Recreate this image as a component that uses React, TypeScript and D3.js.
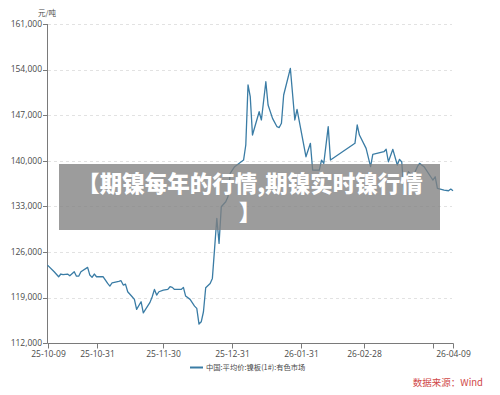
import React from "react";
import * as d3 from "d3";

const dates = [
  "2025-10-09","2025-10-12","2025-10-14","2025-10-15","2025-10-16","2025-10-18","2025-10-19","2025-10-21","2025-10-22","2025-10-23",
  "2025-10-24","2025-10-27","2025-10-28","2025-10-29","2025-10-30","2025-10-31","2025-11-03","2025-11-05","2025-11-06","2025-11-07",
  "2025-11-10","2025-11-11","2025-11-12","2025-11-13","2025-11-14","2025-11-16","2025-11-17","2025-11-18","2025-11-20","2025-11-21",
  "2025-11-24","2025-11-25","2025-11-26","2025-11-27","2025-11-28","2025-11-30","2025-12-02","2025-12-03","2025-12-04","2025-12-05",
  "2025-12-08","2025-12-09","2025-12-10","2025-12-12","2025-12-14","2025-12-15","2025-12-16","2025-12-17","2025-12-18","2025-12-19",
  "2025-12-21","2025-12-22","2025-12-23","2025-12-24","2025-12-25","2025-12-26","2025-12-28","2025-12-29","2025-12-30","2026-01-01",
  "2026-01-05","2026-01-06","2026-01-07","2026-01-08","2026-01-09","2026-01-12","2026-01-13","2026-01-15","2026-01-16","2026-01-18",
  "2026-01-20","2026-01-21","2026-01-22","2026-01-23","2026-01-26","2026-01-28","2026-01-29","2026-02-02","2026-02-04","2026-02-05",
  "2026-02-08","2026-02-09","2026-02-10","2026-02-12","2026-02-13","2026-02-24","2026-02-25","2026-02-26","2026-03-01","2026-03-03",
  "2026-03-04","2026-03-09","2026-03-10","2026-03-11","2026-03-13","2026-03-15","2026-03-16","2026-03-17","2026-03-18","2026-03-20",
  "2026-03-22","2026-03-24","2026-03-25","2026-03-27","2026-03-30","2026-03-31","2026-04-01","2026-04-02","2026-04-05","2026-04-07",
  "2026-04-08","2026-04-09",
];

const prices = [
  124000,122980,122210,122630,122530,122630,122360,122980,122300,122300,
  122980,123650,122470,122120,122630,122210,122210,121190,120780,121290,
  121500,121600,120940,121090,119910,119140,118740,117200,118380,116680,
  118280,119140,120270,119400,119910,120170,120270,120680,120580,120270,
  120270,120580,119250,118740,117710,117360,114950,115300,116840,120520,
  121190,121960,126570,131180,127340,132950,133720,134490,138080,139100,
  140120,142430,151640,149840,143960,147540,146270,152140,148570,146520,
  145240,145110,145760,150100,154200,146270,147910,140630,142690,138590,
  138590,140120,139610,145240,140120,142690,145500,143960,141910,139100,
  141000,141400,141770,139860,141770,139360,140230,139820,135010,138330,
  137560,139100,139610,139100,137560,137050,137560,135780,135520,135410,
  135670,135410,
];

const yTicks = [112000, 119000, 126000, 133000, 140000, 147000, 154000, 161000];
const xTickDates = ["2025-10-09","2025-10-31","2025-11-30","2025-12-31","2026-01-31","2026-02-28","2026-03-31","2026-04-09"];
const xTickLabels = ["25-10-09","25-10-31","25-11-30","25-12-31","26-01-31","26-02-28","","26-04-09"];

const unitLabel = "元/吨";
const seriesName = "中国:平均价:镍板(1#):有色市场";
const sourceText = "数据来源：Wind";
const bannerLine1 = "【期镍每年的行情,期镍实时镍行情";
const bannerLine2 = "】";

export default function App() {
  const W = 500, H = 395;
  const parse = d3.utcParse("%Y-%m-%d");
  const data = dates.map((d, i) => ({ date: parse(d) as Date, value: prices[i] }));
  const x = d3.scaleUtc()
    .domain([parse("2025-10-09") as Date, parse("2026-04-09") as Date])
    .range([47.5, 453]);
  const y = d3.scaleLinear().domain([112000, 161000]).range([343.3, 24]);
  const line = d3.line<{ date: Date; value: number }>()
    .x(d => x(d.date))
    .y(d => y(d.value));
  const fmt = d3.format(",");
  const font = "'Open Sans','Noto Sans CJK SC',sans-serif";
  const axisColor = "#7a7a7a";
  const textColor = "#4a4a4a";

  return (
    <svg width={W} height={H} style={{ position: "absolute", left: 0, top: 0, background: "#fff" }} fontFamily={font}>
      {/* grid */}
      {yTicks.map(t => (
        <line key={"g" + t} x1={48} x2={452} y1={Math.round(y(t)) + 0.5} y2={Math.round(y(t)) + 0.5}
          stroke="#e2e2e2" strokeDasharray="3,3" strokeWidth={1} />
      ))}
      {/* y axis */}
      <line x1={47.5} x2={47.5} y1={Math.round(y(161000))} y2={343.5} stroke={axisColor} strokeWidth={1} />
      {yTicks.map(t => (
        <g key={"y" + t}>
          <line x1={43} x2={47.5} y1={Math.round(y(t)) + 0.5} y2={Math.round(y(t)) + 0.5} stroke={axisColor} />
          <text x={42} y={y(t)} dy="0.33em" textAnchor="end" fontSize={8.5} fill={textColor}>{fmt(t)}</text>
        </g>
      ))}
      <text x={47} y={15.5} textAnchor="middle" fontSize={7.5} fill={textColor} fontFamily="'Noto Sans CJK SC',sans-serif">{unitLabel}</text>
      {/* x axis */}
      <line x1={47.5} x2={453.5} y1={343.5} y2={343.5} stroke={axisColor} />
      {xTickDates.map((d, i) => {
        const px = Math.round(x(parse(d) as Date)) + 0.5;
        return (
          <g key={"x" + d}>
            <line x1={px} x2={px} y1={343.5} y2={348.5} stroke={axisColor} />
            {xTickLabels[i] && (
              <text x={px} y={356.5} textAnchor="middle" fontSize={8.5} fill={textColor}>{xTickLabels[i]}</text>
            )}
          </g>
        );
      })}
      {/* series */}
      <path d={line(data) || ""} fill="none" stroke="#3a7ca5" strokeWidth={1.3} strokeLinejoin="round" />
      {/* legend */}
      <line x1={190} x2={203} y1={367.5} y2={367.5} stroke="#3a7ca5" strokeWidth={2} />
      <text x={206} y={367.5} dy="0.35em" fontSize={7.3} fill={textColor} fontFamily="'Noto Sans CJK SC',sans-serif">{seriesName}</text>
      {/* source */}
      <text x={483} y={383} dy="0.35em" textAnchor="end" fontSize={9.5} fill="#d04848" fontFamily="'Noto Sans CJK SC',sans-serif">{sourceText}</text>
      {/* banner overlay */}
      <rect x={59} y={164} width={381} height={66} fill="rgba(128,128,128,0.78)" />
      <text x={250} y={191.5} textAnchor="middle" fontSize={22.5} fontWeight="900" fill="#fff" fontFamily="'Noto Sans CJK SC',sans-serif">{bannerLine1}</text>
      <text x={250} y={220.5} textAnchor="middle" fontSize={22.5} fontWeight="900" fill="#fff" fontFamily="'Noto Sans CJK SC',sans-serif">{bannerLine2}</text>
    </svg>
  );
}
